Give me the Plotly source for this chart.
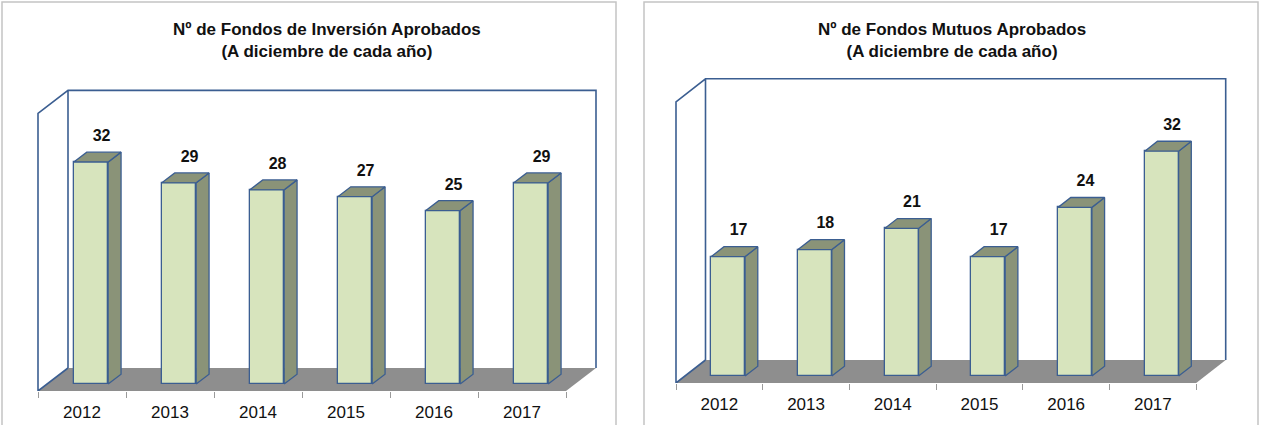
import plotly.graph_objects as go

# ---------------- data ----------------
years = ["2012", "2013", "2014", "2015", "2016", "2017"]
fondos_inversion = [32, 29, 28, 27, 25, 29]
fondos_mutuos = [17, 18, 21, 17, 24, 32]
title_inversion = "Nº de Fondos de Inversión Aprobados<br>(A diciembre de cada año)"
title_mutuos = "Nº de Fondos Mutuos Aprobados<br>(A diciembre de cada año)"
axis_max = 40

# ---------------- style ----------------
W, H = 1261, 425
FONT = "Liberation Sans, Arial, sans-serif"
FRONT = "#D7E4BD"
SIDE = "#8A9378"
EDGE = "#3B5E91"
FLOOR = "#8E8E8E"
BORDER = "#C4C4C4"

panels = [
    dict(vals=fondos_inversion, title=title_inversion, xa="x", ya="y", axn="",
         x0=38, cat=88.0, y0=391, vpx=6.94, dpx=(30, 23),
         dom_x=(20, 612), dom_y=(60, 391), title_x=327, panel=(2, 616)),
    dict(vals=fondos_mutuos, title=title_mutuos, xa="x2", ya="y2", axn="2",
         x0=676, cat=86.7, y0=383, vpx=7.03, dpx=(29.5, 23),
         dom_x=(650, 1250), dom_y=(50, 383), title_x=952, panel=(644, 1258)),
]

fig = go.Figure()
shapes = []
annotations = []
layout_axes = {}

F0 = 0.30   # depth fraction of bar front face
FB = 0.43   # depth fraction taken by the bar
BW = 0.39   # bar width (category units)

for p in panels:
    n = len(years)
    dxf = p["dpx"][0] / p["cat"]
    dyf = p["dpx"][1] / p["vpx"]
    vals = p["vals"]
    base = F0 * dyf
    cx = [i + F0 * dxf for i in range(n)]
    # front faces
    fig.add_trace(go.Bar(
        x=cx, y=vals, base=[base] * n, width=BW,
        marker=dict(color=FRONT, line=dict(color=EDGE, width=1.3)),
        xaxis=p["xa"], yaxis=p["ya"], hoverinfo="skip"))
    # side and top faces
    bdx, bdy = FB * dxf, FB * dyf
    sx, sy, tx, ty = [], [], [], []
    for c, v in zip(cx, vals):
        xl, xr = c - BW / 2, c + BW / 2
        top = base + v
        sx += [xr, xr + bdx, xr + bdx, xr, xr, None]
        sy += [base, base + bdy, top + bdy, top, base, None]
        tx += [xl, xr, xr + bdx, xl + bdx, xl, None]
        ty += [top, top, top + bdy, top + bdy, top, None]
    for px_, py_ in ((sx, sy), (tx, ty)):
        fig.add_trace(go.Scatter(
            x=px_, y=py_, mode="lines", fill="toself", fillcolor=SIDE,
            line=dict(color=EDGE, width=1.3), xaxis=p["xa"], yaxis=p["ya"],
            hoverinfo="skip"))
    # data labels
    fig.add_trace(go.Scatter(
        x=[c + 0.12 for c in cx], y=[base + v + 3.6 for v in vals],
        mode="text", text=[f"<b>{v}</b>" for v in vals],
        textfont=dict(family=FONT, size=16, color="#111111"),
        cliponaxis=False, xaxis=p["xa"], yaxis=p["ya"], hoverinfo="skip"))

    # floor and walls
    L, R = -0.5, n - 0.5
    xr_ = p["xa"]
    yr_ = p["ya"]
    shapes.append(dict(type="path", xref=xr_, yref=yr_, layer="below",
                       path=f"M{L},0 L{R},0 L{R+dxf},{dyf} L{L+dxf},{dyf} Z",
                       fillcolor=FLOOR, line=dict(width=0)))
    shapes.append(dict(type="path", xref=xr_, yref=yr_, layer="below",
                       path=(f"M{L},0 L{L},{axis_max} L{L+dxf},{axis_max+dyf} "
                             f"L{R+dxf},{axis_max+dyf} L{R+dxf},{dyf} "
                             f"M{L+dxf},{axis_max+dyf} L{L+dxf},{dyf} "
                             f"M{L},0 L{L+dxf},{dyf}"),
                       line=dict(color=EDGE, width=1.6)))

    # axes
    dx0, dx1 = p["dom_x"]
    dy0, dy1 = p["dom_y"]
    layout_axes["xaxis" + p["axn"]] = dict(
        domain=[dx0 / W, dx1 / W],
        range=[(dx0 - p["x0"]) / p["cat"] - 0.5, (dx1 - p["x0"]) / p["cat"] - 0.5],
        tickmode="array", tickvals=list(range(n)), ticktext=years, ticks="",
        tickfont=dict(family=FONT, size=17, color="#111111"),
        ticklabelstandoff=9,
        showgrid=False, zeroline=False, showline=False, fixedrange=True,
        anchor=p["ya"],
        minor=dict(tickmode="array", tickvals=[i - 0.5 for i in range(n + 1)],
                   ticks="outside", ticklen=6, tickcolor="#9A9A9A", tickwidth=1,
                   showgrid=False),
    )
    layout_axes["yaxis" + p["axn"]] = dict(
        domain=[1 - dy1 / H, 1 - dy0 / H],
        range=[0, (dy1 - dy0) / p["vpx"]],
        showgrid=False, zeroline=False, showticklabels=False, showline=False,
        ticks="", fixedrange=True, anchor=p["xa"],
    )
    # panel border
    shapes.append(dict(type="rect", xref="paper", yref="paper",
                       x0=p["panel"][0] / W, x1=p["panel"][1] / W,
                       y0=-0.02, y1=1 - 2 / H, line=dict(color=BORDER, width=1.5),
                       fillcolor="rgba(0,0,0,0)", layer="below"))
    # title
    annotations.append(dict(text=f"<b>{p['title']}</b>", xref="paper", yref="paper",
                            x=p["title_x"] / W, y=1 - 41 / H, xanchor="center",
                            yanchor="middle", showarrow=False,
                            font=dict(family=FONT, size=17, color="#111111")))

fig.update_layout(
    width=W, height=H, margin=dict(l=0, r=0, t=0, b=0),
    paper_bgcolor="white", plot_bgcolor="rgba(0,0,0,0)",
    showlegend=False, bargap=0, shapes=shapes, annotations=annotations,
    **layout_axes,
)

fig.write_html("out.html")
